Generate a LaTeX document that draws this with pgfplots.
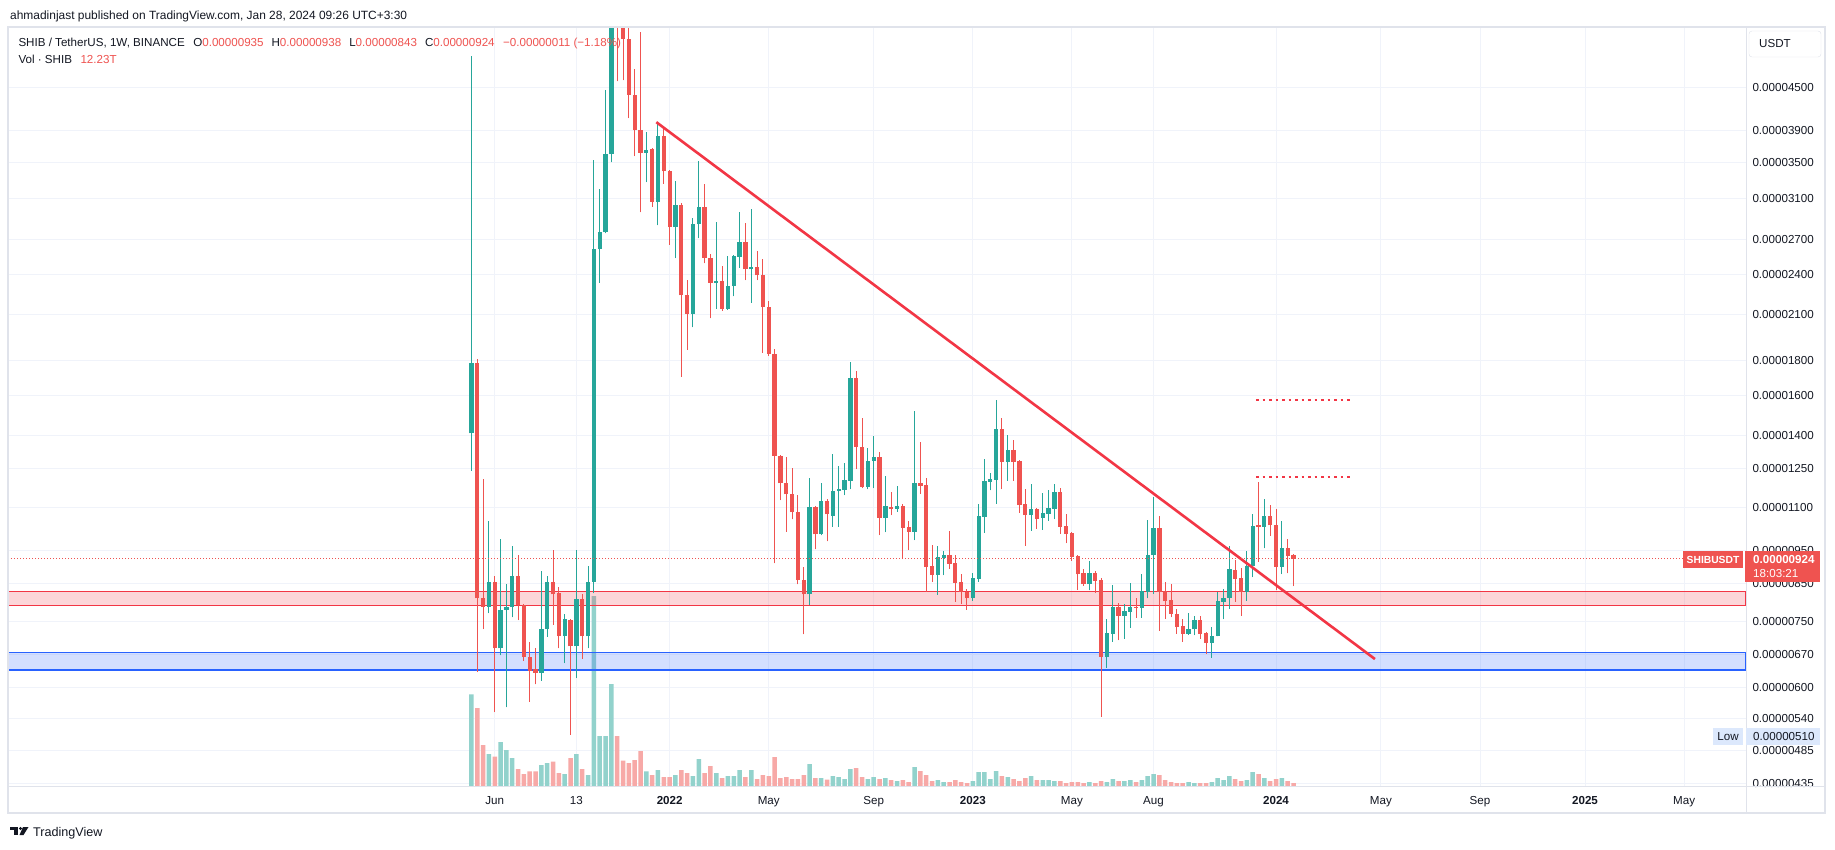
\documentclass[border=0pt]{standalone}
\usepackage{pgfplots}
\pgfplotsset{compat=1.18}
\usepackage{pgfplotstable}
\usepackage{fontspec}
\setmainfont{Liberation Sans}
\definecolor{tvgreen}{HTML}{26A69A}
\definecolor{tvred}{HTML}{EF5350}
\definecolor{vgreen}{HTML}{92D2CC}
\definecolor{vred}{HTML}{F7A9A7}
\definecolor{tline}{HTML}{F23645}
\definecolor{gridc}{HTML}{F0F3FA}
\definecolor{framec}{HTML}{E0E3EB}
\definecolor{txt}{HTML}{131722}
\definecolor{bandblue}{HTML}{2962FF}
\definecolor{lowbox}{HTML}{DCE8FC}
\newcommand\tvf{\fontsize{11.6}{13}\selectfont}

% x = days since 2022-01-01 (weekly candles), prices in units of 0.000001 USDT, v = volume in T
\pgfplotstableread{
x o h l c v
-236 14.09 50.11 12.43 17.87 367
-229 17.87 18.11 6.32 8.09 312
-222 8.09 12.08 7.30 7.86 164
-215 7.86 10.50 7.70 8.54 128
-208 8.54 8.73 5.52 6.84 118
-201 6.84 9.88 6.68 7.79 176
-194 7.79 8.48 5.61 7.87 144
-187 7.86 9.66 7.59 8.73 112
-180 8.73 9.36 7.52 7.91 68
-173 7.91 7.95 6.56 6.64 48
-166 6.64 6.98 5.72 6.35 59
-159 6.38 6.84 6.06 6.30 59
-152 6.30 8.88 6.13 7.30 84
-145 7.30 8.72 7.11 8.56 92
-138 8.56 9.51 7.40 8.20 98
-131 8.23 8.42 6.84 7.13 52
-124 7.13 7.68 6.51 7.54 48
-117 7.52 7.55 5.12 6.89 112
-110 6.89 9.52 6.19 8.07 128
-103 8.07 8.20 6.61 7.12 68
-96 7.12 9.02 6.84 8.56 44
-89 8.56 35.32 8.23 26.20 760
-82 26.20 32.04 23.38 27.71 200
-75 27.71 44.65 27.60 36.03 200
-68 36.03 88.50 35.03 57.00 408
-61 57.00 66.00 46.00 56.00 200
-54 56.00 58.00 46.15 53.09 102
-47 53.09 55.50 40.64 43.99 92
-40 43.99 47.93 35.79 39.00 104
-33 39.00 54.30 29.61 36.21 140
-26 36.21 38.81 32.79 36.51 59
-19 36.63 36.81 30.19 30.70 44
-12 30.70 40.11 28.36 38.30 64
-5 38.30 39.32 32.63 34.00 36
2 34.00 34.17 26.55 28.18 36
9 28.18 32.90 25.39 30.40 44
16 30.40 30.59 17.03 22.40 64
23 22.40 23.58 18.65 21.07 52
30 21.07 29.02 20.12 28.50 40
37 28.45 35.15 27.13 30.14 108
44 30.14 32.57 24.94 25.43 52
51 25.43 25.77 20.73 23.38 80
58 23.34 28.64 21.42 23.50 52
65 23.50 24.69 21.28 21.42 32
72 21.42 25.56 21.35 23.11 40
79 23.11 25.69 22.33 25.56 40
86 25.52 29.66 24.57 26.81 64
93 26.81 28.55 23.58 24.45 36
100 24.45 29.99 21.85 24.61 64
107 24.61 25.99 23.58 23.97 28
114 23.97 25.35 18.47 21.53 44
121 21.53 21.96 18.29 18.41 40
128 18.41 18.72 9.10 13.06 116
135 13.06 13.10 11.26 11.91 32
142 11.91 13.02 10.13 11.48 36
149 11.48 12.53 10.55 10.80 28
156 10.80 11.45 8.48 8.62 28
163 8.62 8.98 7.17 8.20 44
170 8.20 12.12 7.91 11.00 88
177 11.00 11.05 9.54 10.03 32
184 10.03 11.93 10.00 11.24 32
191 11.24 11.30 9.80 10.73 26
198 10.68 13.14 10.29 11.60 40
205 11.60 12.62 10.29 11.68 36
212 11.66 12.74 11.45 12.04 28
219 12.01 17.90 11.68 17.00 68
226 17.00 17.40 12.49 13.47 72
233 13.47 14.85 11.72 11.76 36
240 11.76 13.41 11.68 12.83 28
247 12.83 13.96 11.72 13.01 36
254 13.01 13.23 10.01 10.61 28
261 10.61 12.20 10.11 11.03 32
268 10.99 11.57 10.70 10.93 24
275 10.93 11.81 10.83 11.03 20
282 11.03 11.10 9.23 10.26 24
289 10.28 10.49 9.52 10.12 16
296 10.12 15.18 9.84 11.92 76
303 11.92 13.68 11.50 11.82 60
310 11.84 12.12 8.28 8.99 44
317 9.02 9.68 8.56 8.76 20
324 8.76 9.66 8.19 9.30 24
331 9.28 9.48 8.75 9.36 16
338 9.36 10.15 8.94 9.09 16
345 9.11 9.36 8.00 8.53 24
352 8.55 8.78 7.95 8.28 16
359 8.28 8.34 7.79 8.10 12
366 8.10 8.80 8.03 8.66 20
373 8.64 11.11 8.56 10.68 56
380 10.65 12.91 10.09 12.00 56
387 11.97 12.33 11.63 12.08 28
394 12.06 15.76 11.12 14.29 60
401 14.29 14.83 11.68 12.81 40
408 12.81 14.01 12.01 13.32 36
415 13.32 13.77 12.01 12.81 28
422 12.83 12.88 10.79 11.07 20
429 11.11 11.68 9.66 10.70 32
436 10.70 11.88 10.16 10.93 40
443 10.93 10.95 10.22 10.56 24
450 10.61 11.53 10.19 10.78 24
457 10.76 11.64 10.50 10.96 24
464 10.93 11.88 10.56 11.57 20
471 11.57 11.72 10.05 10.29 20
478 10.32 10.75 9.74 10.06 12
485 10.08 10.10 9.18 9.30 16
492 9.33 9.36 8.33 8.77 16
499 8.80 8.93 8.44 8.49 12
506 8.49 9.17 8.31 8.81 16
513 8.81 8.88 8.25 8.59 12
520 8.61 8.67 5.44 6.65 20
527 6.65 7.55 6.41 7.20 16
534 7.19 8.47 7.00 7.86 28
541 7.86 7.98 7.03 7.64 20
548 7.64 7.95 7.07 7.76 20
555 7.74 8.53 7.33 7.86 24
562 7.87 8.09 7.58 7.84 16
569 7.84 8.78 7.58 8.29 24
576 8.28 10.54 8.09 9.37 40
583 9.36 11.39 8.22 10.26 48
590 10.26 10.67 7.26 8.28 44
597 8.29 8.55 7.56 8.02 24
604 8.05 8.48 7.60 7.68 16
611 7.69 7.81 7.19 7.36 12
618 7.38 7.54 6.99 7.19 12
625 7.19 7.71 7.16 7.30 16
632 7.29 7.62 7.15 7.53 12
639 7.53 7.63 7.07 7.19 12
646 7.20 7.22 6.72 6.97 12
653 6.97 7.36 6.63 7.13 16
660 7.13 8.28 7.12 8.02 32
667 8.00 8.34 7.55 8.11 24
674 8.11 9.65 7.82 8.93 40
681 8.90 9.22 8.00 8.65 28
688 8.67 8.96 7.64 8.28 20
695 8.28 9.49 8.03 9.02 24
702 9.02 10.73 8.69 10.32 56
709 10.34 11.98 9.15 10.30 48
716 10.30 11.30 9.57 10.67 32
723 10.67 11.06 9.98 10.34 20
730 10.36 10.93 8.31 9.00 28
737 9.00 10.50 8.78 9.59 32
744 9.59 9.88 8.80 9.34 20
751 9.35 9.38 8.43 9.24 12
}\shib

\pgfplotsset{tvaxis/.style={
  at={(8pt,63pt)}, anchor=south west, scale only axis,
  width=1738pt, height=759pt, xmin=-792.4, xmax=1294.3},
  nomark/.style={only marks, mark=*, mark size=0pt, mark options={draw=none, fill=none}}}

\begin{document}
\begin{tikzpicture}[x=1pt,y=1pt]
\useasboundingbox (0,0) rectangle (1835,849);
\fill[white] (0,0) rectangle (1835,849);

% grid + tick labels
\begin{axis}[tvaxis, ymode=log, ymin=4.307, ymax=55.22,
  axis line style={draw=none}, tick style={draw=none},
  grid=major, major grid style={gridc, line width=1pt},
  xtick={-208,-110,2,121,247,366,485,583,730,856,975,1101,1220},
  xticklabels={Jun,13,\textbf{2022},May,Sep,\textbf{2023},May,Aug,\textbf{2024},May,Sep,\textbf{2025},May},
  ytick={45,39,35,31,27,24,21,18,16,14,12.5,11,9.5,8.5,7.5,6.7,6,5.4,4.85,4.35},
  yticklabels={0.00004500,0.00003900,0.00003500,0.00003100,0.00002700,0.00002400,0.00002100,0.00001800,0.00001600,0.00001400,0.00001250,0.00001100,0.00000950,0.00000850,0.00000750,0.00000670,0.00000600,0.00000540,0.00000485,0.00000435},
  yticklabel pos=right,
  tick label style={font=\tvf, text=txt},
  xticklabel style={anchor=base, yshift=-18.3pt},
  yticklabel style={anchor=west, xshift=3pt},
]
\addplot[draw=none] coordinates {(0,10)};
\end{axis}

% volume
\begin{axis}[tvaxis, ymin=0, ymax=3036, hide axis, ybar, bar width=4.5pt, bar shift=0pt]
\addplot[fill=vgreen, draw=none, restrict expr to domain={\thisrow{c}-\thisrow{o}}{0:1000}] table[x=x,y=v]{\shib};
\addplot[fill=vred, draw=none, restrict expr to domain={\thisrow{c}-\thisrow{o}}{-1000:-0.00001}] table[x=x,y=v]{\shib};
\end{axis}

% price
\begin{axis}[tvaxis, ymode=log, ymin=4.307, ymax=55.22, hide axis]
% zones
\addplot[draw=tline, line width=1.2pt, fill=tline, fill opacity=0.2] coordinates {(-792.4,7.903) (1294.3,7.903) (1294.3,8.287) (-792.4,8.287)} -- cycle;
\addplot[draw=bandblue, line width=1.2pt, fill=bandblue, fill opacity=0.2] coordinates {(-792.4,6.359) (1294.3,6.359) (1294.3,6.751) (-792.4,6.751)} -- cycle;
% wicks
\addplot[tvgreen, nomark, restrict expr to domain={\thisrow{c}-\thisrow{o}}{0:1000},
  error bars/.cd, y dir=plus, y explicit, error mark=none, error bar style={tvgreen, line width=1pt}]
  table[x=x, y=l, y error expr={\thisrow{h}-\thisrow{l}}]{\shib};
\addplot[tvred, nomark, restrict expr to domain={\thisrow{c}-\thisrow{o}}{-1000:-0.00001},
  error bars/.cd, y dir=plus, y explicit, error mark=none, error bar style={tvred, line width=1pt}]
  table[x=x, y=l, y error expr={\thisrow{h}-\thisrow{l}}]{\shib};
% bodies
\addplot[tvgreen, nomark, restrict expr to domain={\thisrow{c}-\thisrow{o}}{0:1000},
  error bars/.cd, y dir=plus, y explicit, error mark=none, error bar style={tvgreen, line width=4.3pt}]
  table[x=x, y=o, y error expr={\thisrow{c}-\thisrow{o}}]{\shib};
\addplot[tvred, nomark, restrict expr to domain={\thisrow{c}-\thisrow{o}}{-1000:-0.00001},
  error bars/.cd, y dir=plus, y explicit, error mark=none, error bar style={tvred, line width=4.3pt}]
  table[x=x, y=c, y error expr={\thisrow{o}-\thisrow{c}}]{\shib};
% trend line and levels
\addplot[tline, line width=2.6pt] coordinates {(-14,40.1) (848.8,6.60)};
\addplot[tline, line width=2pt, dash pattern=on 2.5pt off 4pt] coordinates {(706,15.75) (821,15.75)};
\addplot[tline, line width=2pt, dash pattern=on 2.5pt off 4pt] coordinates {(706,12.18) (821,12.18)};
\addplot[tvred, line width=0.8pt, dash pattern=on 1pt off 2pt] coordinates {(-792.4,9.24) (1294.3,9.24)};
\end{axis}

% frame
\draw[framec, line width=1.5pt] (8,36) rectangle (1825,822);
\draw[framec, line width=1pt] (8,63) -- (1825,63);
\draw[framec, line width=1pt] (1746,36) -- (1746,822);

% USDT box
\draw[framec, rounded corners=3pt, fill=white] (1749,818) rectangle (1821,792);
\node[anchor=west, font=\tvf, text=txt, inner sep=0] at (1759,805) {USDT};

% price labels
\fill[tvred] (1745,298) rectangle (1820,267);
\node[anchor=west, font=\tvf\bfseries, text=white, inner sep=0] at (1753,289) {0.00000924};
\node[anchor=west, font=\tvf, text=white, inner sep=0] at (1753,275) {18:03:21};
\fill[tvred] (1683,298) rectangle (1743,281);
\node[font=\fontsize{10.3}{12}\selectfont\bfseries, text=white, inner sep=0] at (1713,289.5) {SHIBUSDT};
\fill[lowbox] (1713,121) rectangle (1743,104);
\node[font=\tvf, text=txt, inner sep=0] at (1728,112.5) {Low};
\fill[lowbox] (1746,121) rectangle (1820,104);
\node[anchor=west, font=\tvf, text=txt, inner sep=0] at (1753,112.5) {0.00000510};

% header
\node[anchor=base west, font=\fontsize{11.95}{13}\selectfont, text=txt, inner sep=0] at (10,829.7) {ahmadinjast published on TradingView.com, Jan 28, 2024 09:26 UTC+3:30};
\node[anchor=base west, font=\tvf, text=txt, inner sep=0] at (18.3,802.5) {SHIB / TetherUS, 1W, BINANCE\hspace{8.5pt}O\textcolor{tvred}{0.00000935}\hspace{8pt}H\textcolor{tvred}{0.00000938}\hspace{8pt}L\textcolor{tvred}{0.00000843}\hspace{8pt}C\textcolor{tvred}{0.00000924}\hspace{8.5pt}\textcolor{tvred}{−0.00000011 (−1.18\%)}};
\node[anchor=base west, font=\tvf, text=txt, inner sep=0] at (18.3,785.5) {Vol · SHIB\hspace{8.5pt}\textcolor{tvred}{12.23T}};

% footer logo
\fill[txt] (10,22) rectangle (18,19);
\fill[txt] (14,22) rectangle (18,14);
\fill[txt] (20.5,20.5) circle (1.6);
\fill[txt] (23,22) -- (28.5,22) -- (23.5,14) -- (19.5,14) -- cycle;
\node[anchor=base west, font=\fontsize{12.6}{14}\selectfont, text=txt, inner sep=0] at (33,13) {TradingView};
\end{tikzpicture}
\end{document}
